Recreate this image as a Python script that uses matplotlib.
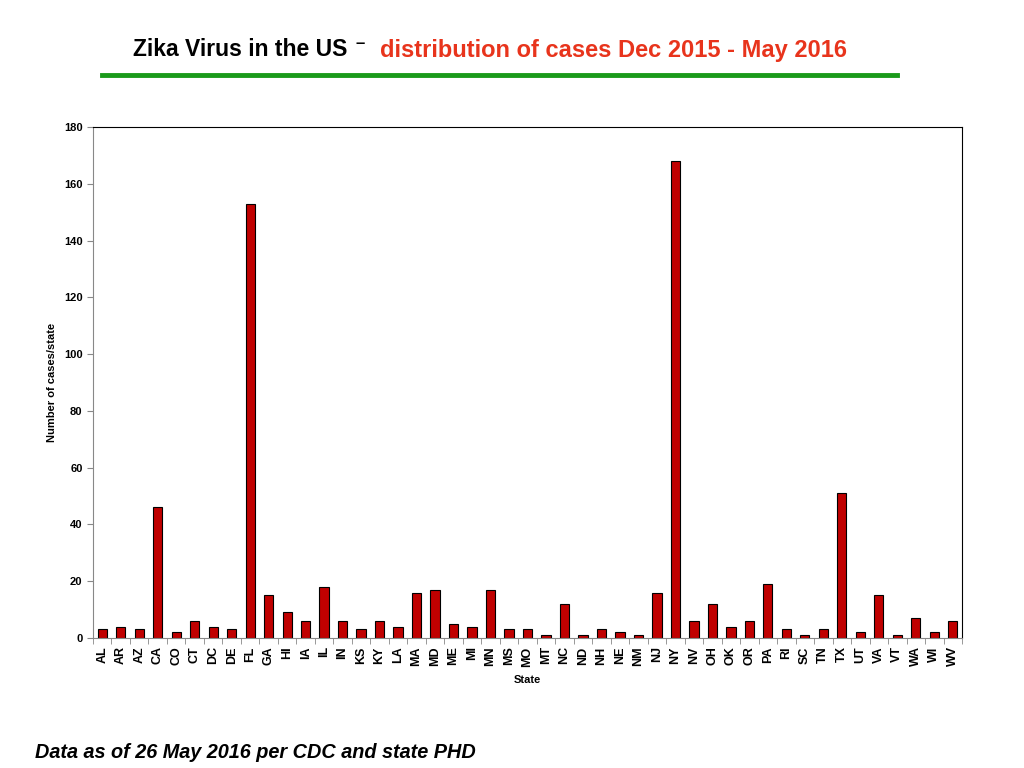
import matplotlib
matplotlib.use("Agg")
import matplotlib.pyplot as plt
import numpy as np

states = ["AL", "AR", "AZ", "CA", "CO", "CT", "DC", "DE", "FL", "GA", "HI", "IA",
          "IL", "IN", "KS", "KY", "LA", "MA", "MD", "ME", "MI", "MN", "MS", "MO",
          "MT", "NC", "ND", "NH", "NE", "NM", "NJ", "NY", "NV", "OH", "OK", "OR",
          "PA", "RI", "SC", "TN", "TX", "UT", "VA", "VT", "WA", "WI", "WV"]
cases = [3, 4, 3, 46, 2, 6, 4, 3, 153, 15, 9, 6,
         18, 6, 3, 6, 4, 16, 17, 5, 4, 17, 3, 3,
         1, 12, 1, 3, 2, 1, 16, 168, 6, 12, 4, 6,
         19, 3, 1, 3, 51, 2, 15, 1, 7, 2, 6]
y_ticks = [0, 20, 40, 60, 80, 100, 120, 140, 160, 180]

plt.rcParams['font.family'] = ['Liberation Sans', 'DejaVu Sans']

fig = plt.figure(figsize=(10.24, 7.68), dpi=100)
ax = fig.add_axes([93/1024, 1 - 638/768, (962-93)/1024, (638-127)/768])

x = np.arange(len(states))
ax.bar(x, cases, width=0.5, color="#C00000", edgecolor="black", linewidth=0.8)

ax.set_xlim(-0.5, len(states) - 0.5)
ax.set_ylim(0, 180)
ax.set_yticks(y_ticks)
ax.set_yticklabels([str(v) for v in y_ticks], fontsize=8, fontweight="bold")
ax.set_xticks(x)
ax.set_xticklabels(states, rotation=90, fontsize=9, fontweight="bold")
ax.set_xticks(np.arange(-0.5, len(states), 1), minor=True)
ax.tick_params(axis="x", which="major", length=0, pad=6)
ax.tick_params(axis="x", which="minor", length=4, color="#888888")
ax.tick_params(axis="y", length=4, color="#888888")

for s in ["left", "bottom"]:
    ax.spines[s].set_color("#888888")
for s in ["top", "right"]:
    ax.spines[s].set_color("black")

ax.set_xlabel("State", fontsize=8, fontweight="bold", labelpad=6)
ax.set_ylabel("Number of cases/state", fontsize=8, fontweight="bold", labelpad=5)

# title and green rule
fig.text(133/1024, 1 - 50/768, "Zika Virus in the US", fontsize=16.5, fontweight="bold",
         va="center", color="black")
fig.text(356/1024, 1 - 44/768, "\u2013", fontsize=12, fontweight="bold",
         va="center", color="black")
fig.text(380/1024, 1 - 50/768, "distribution of cases Dec 2015 - May 2016", fontsize=17,
         fontweight="bold", va="center", color="#E8341C")
fig.add_artist(plt.Line2D([102/1024, 897/1024], [1 - 75/768, 1 - 75/768],
                          color="#1A9A1A", linewidth=3.5, transform=fig.transFigure))

fig.text(35/1024, 1 - 752/768, "Data as of 26 May 2016 per CDC and state PHD",
         fontsize=14.3, fontweight="bold", style="italic", va="center")

fig.savefig("out.png", dpi=100)
